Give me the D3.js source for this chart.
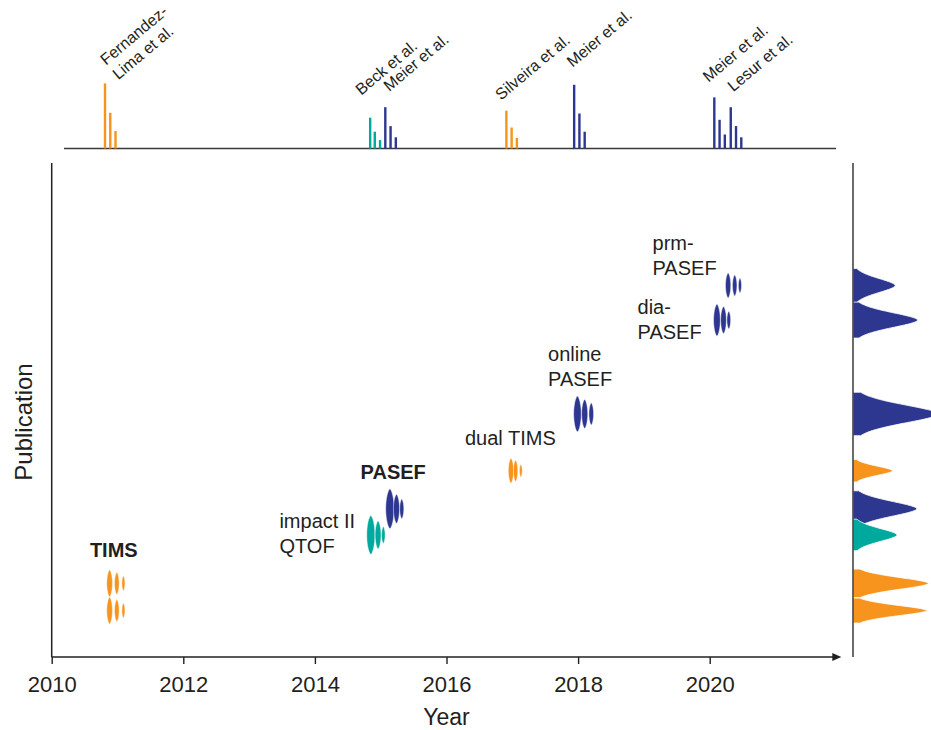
<!DOCTYPE html>
<html>
<head>
<meta charset="utf-8">
<script src="https://cdn.jsdelivr.net/npm/d3@7"></script>
<style>
  body { margin: 0; background: #fff; }
  svg { display: block; }
  text { font-family: "Liberation Sans", Arial, Helvetica, sans-serif; fill: #231f20; }
</style>
</head>
<body>
<svg id="chart" width="931" height="730"></svg>
<script>
// ---- Techniques on the timeline (bottom to top) ----
const techniques     = ["TIMS (a)", "TIMS (b)", "impact II QTOF", "PASEF", "dual TIMS", "online PASEF", "dia-PASEF", "prm-PASEF"];
const techniqueGroup = ["tims", "tims", "qtof", "pasef", "tims", "pasef", "pasef", "pasef"];
const techniqueLevel = [9.4, 14.9, 24.7, 30.0, 37.7, 49.2, 68.2, 75.2];
// three mobility peaks per technique: year position and peak height (publication-axis units)
const peakYears = [
  [2010.88, 2010.99, 2011.09],
  [2010.88, 2010.99, 2011.09],
  [2014.85, 2014.96, 2015.04],
  [2015.14, 2015.24, 2015.32],
  [2016.98, 2017.05, 2017.13],
  [2017.99, 2018.10, 2018.20],
  [2020.11, 2020.21, 2020.29],
  [2020.28, 2020.38, 2020.46]
];
const peakHeights = [
  [5.5, 4.5, 3.0],
  [5.5, 4.5, 3.0],
  [7.9, 5.7, 3.4],
  [8.1, 5.9, 4.0],
  [5.1, 4.3, 2.6],
  [7.3, 5.9, 4.5],
  [6.5, 5.5, 3.6],
  [5.1, 4.3, 3.0]
];
// side distribution per technique
const densityHeight = [82, 84, 49, 71, 44, 95, 72, 47];
const densitySpread = [2.53, 2.9, 3.2, 3.64, 2.27, 4.39, 3.64, 3.44];

const labelLines = [null, ["TIMS"], ["impact II", "QTOF"], ["PASEF"], ["dual TIMS"], ["online", "PASEF"], ["dia-", "PASEF"], ["prm-", "PASEF"]];
const labelBold  = [false, true, false, true, false, false, false, false];

// ---- Publications (top strip) ----
const papers      = ["Fernandez-Lima et al.", "Beck et al.", "Meier et al.", "Silveira et al.", "Meier et al.", "Meier et al.", "Lesur et al."];
const paperLines  = [["Fernandez-", "Lima et al."], ["Beck et al."], ["Meier et al."], ["Silveira et al."], ["Meier et al."], ["Meier et al."], ["Lesur et al."]];
const paperGroup  = ["tims", "qtof", "pasef", "tims", "pasef", "pasef", "pasef"];
const paperYears  = [
  [2010.81, 2010.89, 2010.97],
  [2014.84, 2014.91, 2014.99],
  [2015.07, 2015.15, 2015.23],
  [2016.91, 2016.99, 2017.07],
  [2017.94, 2018.02, 2018.10],
  [2020.07, 2020.15, 2020.23],
  [2020.32, 2020.40, 2020.48]
];
const paperIntensity = [
  [93, 51, 25],
  [44, 24, 12],
  [59, 32, 16],
  [54, 30, 15],
  [91, 50, 24],
  [73, 41, 20],
  [59, 32, 16]
];

const yearTicks = [2010, 2012, 2014, 2016, 2018, 2020];

// ---- layout ----
const colors = { tims: "#F7941D", qtof: "#00A99D", pasef: "#2E3790" };
const ink = "#231f20";
// label offsets in px from the first peak of each technique
const labelOffset = [null, [-19.7, -26.8], [-91.4, -7.2], [-29.3, -29.7], [-46, -25.8], [-29.4, -53], [-79.4, -6.5], [-75.6, -35.8]];
// author label offsets in px from the tallest bar top
const paperOffset = [[1, -17.7], [-9, -22], [4, -15.3], [-5.4, -10], [-1.7, -17], [-5.8, -14.6], [2.4, -15]];

const svg = d3.select("#chart");

const x = d3.scaleLinear().domain([2010, 2022]).range([51.7, 841.3]);
const y = d3.scaleLinear().domain([0, 100]).range([657, 163]);
const stripY = d3.scaleLinear().domain([0, 100]).range([148.5, 78.5]);
const densX = d3.scaleLinear().domain([0, 100]).range([853, 943]);
const unitPx = y(0) - y(1);

// ---- top strip ----
const strip = svg.append("g");
strip.append("line").attr("x1", 64).attr("x2", 836).attr("y1", stripY(0)).attr("y2", stripY(0))
  .attr("stroke", "#3a3a3a").attr("stroke-width", 1.6);

papers.forEach((p, i) => {
  const g = strip.append("g");
  g.selectAll("rect").data(paperYears[i].map((yr, k) => ({ yr, v: paperIntensity[i][k] })))
    .join("rect")
    .attr("x", d => x(d.yr) - 1.2)
    .attr("width", 2.4)
    .attr("y", d => stripY(d.v))
    .attr("height", d => stripY(0) - stripY(d.v))
    .attr("fill", colors[paperGroup[i]]);
  const ax = x(paperYears[i][0]) + paperOffset[i][0];
  const ay = stripY(d3.max(paperIntensity[i])) + paperOffset[i][1];
  const t = g.append("text")
    .attr("transform", `translate(${ax},${ay}) rotate(-40)`)
    .attr("font-size", 16);
  paperLines[i].forEach((ln, k) => {
    t.append("tspan").attr("x", 0).attr("y", k * 19).text(ln);
  });
});

// ---- main panel ----
const main = svg.append("g");

// lens-shaped mobility peaks
const lens = (cx, cy, ry, rx) => {
  const pts = [];
  const n = 40;
  for (let k = 0; k <= n; k++) {
    const t = -1 + 2 * k / n;
    pts.push([cx + rx * Math.pow(1 - t * t, 0.65), cy + ry * t]);
  }
  for (let k = n; k >= 0; k--) {
    const t = -1 + 2 * k / n;
    pts.push([cx - rx * Math.pow(1 - t * t, 0.65), cy + ry * t]);
  }
  return d3.line()(pts) + "Z";
};

techniques.forEach((tech, i) => {
  const cy = y(techniqueLevel[i]);
  peakYears[i].forEach((yr, k) => {
    const ry = peakHeights[i][k] * unitPx / 2;
    const rx = Math.max(1.4, ry * 0.21);
    main.append("path")
      .attr("d", lens(x(yr), cy, ry, rx))
      .attr("fill", colors[techniqueGroup[i]])
      .attr("stroke", "#fff").attr("stroke-width", 0.5);
  });
  if (labelLines[i]) {
    const lx = x(peakYears[i][0]) + labelOffset[i][0];
    const ly = cy + labelOffset[i][1];
    const t = main.append("text")
      .attr("font-size", 20)
      .attr("font-weight", labelBold[i] ? "bold" : "normal");
    labelLines[i].forEach((ln, k) => {
      t.append("tspan").attr("x", lx).attr("y", ly + k * 25).text(ln);
    });
  }
});

// axes
const xAxis = d3.axisBottom(x).tickValues(yearTicks).tickFormat(d3.format("d"))
  .tickSize(7).tickSizeOuter(0).tickPadding(12);
const gx = svg.append("g").attr("transform", `translate(0,${y(0)})`).call(xAxis);
gx.select(".domain").remove();
gx.selectAll(".tick line").attr("stroke", ink).attr("stroke-width", 1.4);
gx.selectAll(".tick text").attr("font-size", 22).attr("font-family", "\"Liberation Sans\", Arial, sans-serif").attr("fill", ink);

svg.append("line").attr("x1", x(2010)).attr("x2", x(2022) - 4).attr("y1", y(0)).attr("y2", y(0))
  .attr("stroke", ink).attr("stroke-width", 1.5);
svg.append("path")
  .attr("d", d3.line()([[x(2022), y(0)], [x(2022) - 9, y(0) - 4], [x(2022) - 9, y(0) + 4]]) + "Z")
  .attr("fill", ink);
svg.append("line").attr("x1", x(2010)).attr("x2", x(2010)).attr("y1", y(100)).attr("y2", y(0))
  .attr("stroke", ink).attr("stroke-width", 1.5);

svg.append("text").attr("x", x(2016)).attr("y", 725).attr("text-anchor", "middle")
  .attr("font-size", 23).text("Year");
svg.append("text").attr("transform", `translate(32,${(y(0) + y(100)) / 2 + 12}) rotate(-90)`)
  .attr("text-anchor", "middle").attr("font-size", 24).text("Publication");

// ---- side distributions ----
const side = svg.append("g");
const area = d3.area()
  .y(d => d[0])
  .x0(densX(0))
  .x1(d => d[1])
  .curve(d3.curveBasis);

const order = d3.range(techniques.length).sort((a, b) => techniqueLevel[b] - techniqueLevel[a]);
order.forEach(i => {
  const pts = [];
  const n = 60;
  for (let k = 0; k <= n; k++) {
    const u = -1 + 2 * k / n;
    const v = densityHeight[i] * Math.exp(-2.4 * Math.pow(Math.abs(u), 1.8));
    pts.push([y(techniqueLevel[i] + u * densitySpread[i]), densX(v)]);
  }
  side.append("path").attr("d", area(pts))
    .attr("fill", colors[techniqueGroup[i]])
    .attr("stroke", "#fff").attr("stroke-width", 0.8);
});
side.append("line").attr("x1", densX(0)).attr("x2", densX(0)).attr("y1", y(100)).attr("y2", y(0))
  .attr("stroke", "#3a3a3a").attr("stroke-width", 1.5);
</script>
</body>
</html>
